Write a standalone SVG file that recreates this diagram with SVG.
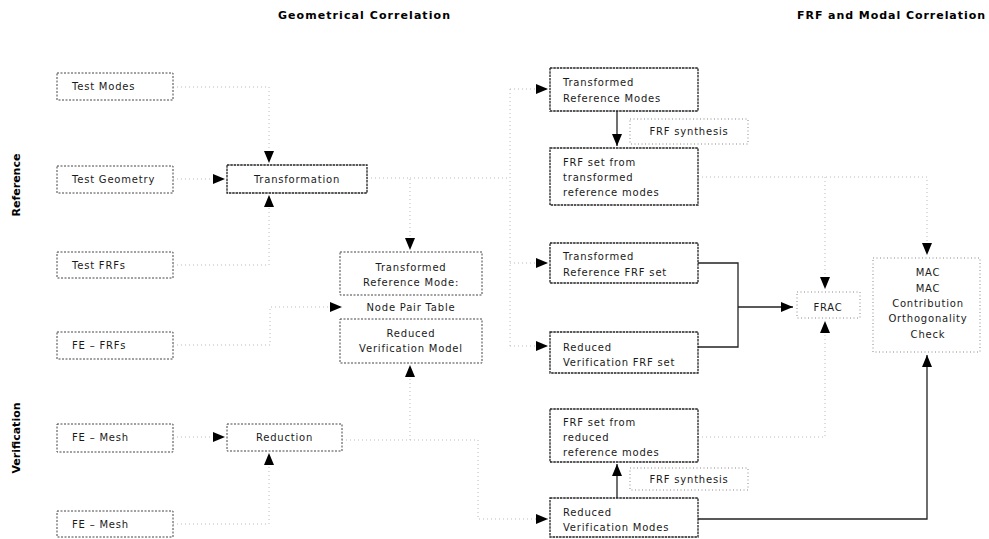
<svg xmlns="http://www.w3.org/2000/svg" width="989" height="539" viewBox="0 0 989 539">
<style>
  .hd{font-family:"DejaVu Sans",sans-serif;font-weight:bold;font-size:11px;fill:#000}
  .t{font-family:"DejaVu Sans",sans-serif;font-size:10px;letter-spacing:0.8px;fill:#1a1a1a}
  .c{text-anchor:middle}
  .bl{fill:#fff;stroke:#444;stroke-width:1;stroke-dasharray:2 1.5}
  .bd{fill:#fff;stroke:#222;stroke-width:1.3;stroke-dasharray:2.5 0.8}
  .bf{fill:none;stroke:#888;stroke-width:1;stroke-dasharray:1 2.5}
  .lf{fill:none;stroke:#bbb;stroke-width:1;stroke-dasharray:1 3}
  .ld{fill:none;stroke:#222;stroke-width:1.3}
</style>
<defs>
  <marker id="ah" markerUnits="userSpaceOnUse" markerWidth="13" markerHeight="11" refX="12" refY="5" orient="auto">
    <path d="M0,0 L12,5 L0,10 z" fill="#000"/>
  </marker>
</defs>

<text class="hd c" x="364" y="19" textLength="172">Geometrical Correlation</text>
<text class="hd c" x="891" y="19" textLength="188">FRF and Modal Correlation</text>
<text class="hd c" transform="translate(20,185) rotate(-90)">Reference</text>
<text class="hd c" transform="translate(20,438) rotate(-90)">Verification</text>

<g id="connectors">
  <path class="lf" d="M173,87 H269 V163" marker-end="url(#ah)"/>
  <path class="lf" d="M173,179 H225" marker-end="url(#ah)"/>
  <path class="lf" d="M173,265 H269 V195" marker-end="url(#ah)"/>
  <path class="lf" d="M173,345 H270 V307 H342" marker-end="url(#ah)"/>
  <path class="lf" d="M173,437 H225" marker-end="url(#ah)"/>
  <path class="lf" d="M173,524 H269 V453" marker-end="url(#ah)"/>
  <path class="lf" d="M367,178 H410 V250" marker-end="url(#ah)"/>
  <path class="lf" d="M410,178 H510"/>
  <path class="lf" d="M510,89 V346"/>
  <path class="lf" d="M510,89 H548" marker-end="url(#ah)"/>
  <path class="lf" d="M510,263 H548" marker-end="url(#ah)"/>
  <path class="lf" d="M510,346 H548" marker-end="url(#ah)"/>
  <path class="lf" d="M342,440 H478 V519 H548" marker-end="url(#ah)"/>
  <path class="lf" d="M410,440 V365" marker-end="url(#ah)"/>
  <path class="ld" d="M617,111 V146" marker-end="url(#ah)"/>
  <path class="ld" d="M617,498 V464" marker-end="url(#ah)"/>
  <path class="lf" d="M698,177 H927 V255" marker-end="url(#ah)"/>
  <path class="lf" d="M825,177 V289" marker-end="url(#ah)"/>
  <path class="lf" d="M698,437 H825 V321" marker-end="url(#ah)"/>
  <path class="ld" d="M698,263 H738 V347 H698"/>
  <path class="ld" d="M738,307 H793" marker-end="url(#ah)"/>
  <path class="ld" d="M698,519 H927 V355" marker-end="url(#ah)"/>
</g>

<g id="test-modes"><rect class="bl" x="57" y="73" width="116" height="27"/><text class="t" x="72" y="90">Test Modes</text></g>
<g id="test-geometry"><rect class="bl" x="57" y="166" width="116" height="27"/><text class="t" x="72" y="183">Test Geometry</text></g>
<g id="test-frfs"><rect class="bl" x="57" y="252" width="116" height="26"/><text class="t" x="72" y="269">Test FRFs</text></g>
<g id="fe-frfs"><rect class="bl" x="57" y="332" width="116" height="27"/><text class="t" x="72" y="349">FE – FRFs</text></g>
<g id="fe-mesh-1"><rect class="bl" x="57" y="424" width="116" height="28"/><text class="t" x="72" y="441">FE – Mesh</text></g>
<g id="fe-mesh-2"><rect class="bl" x="57" y="511" width="116" height="26"/><text class="t" x="72" y="528">FE – Mesh</text></g>

<g id="transformation"><rect class="bd" x="227" y="165" width="140" height="28"/><text class="t c" x="297" y="183">Transformation</text></g>
<g id="reduction"><rect class="bl" x="227" y="424" width="115" height="27"/><text class="t c" x="284.5" y="441">Reduction</text></g>

<g id="transformed-reference-mode"><rect class="bl" x="340" y="252" width="142" height="43"/><text class="t c" x="411" y="271">Transformed</text><text class="t c" x="411" y="286">Reference Mode:</text></g>
<g id="node-pair-table"><text class="t c" x="411" y="311">Node Pair Table</text></g>
<g id="reduced-verification-model"><rect class="bl" x="340" y="319" width="142" height="44"/><text class="t c" x="411" y="337">Reduced</text><text class="t c" x="411" y="352">Verification Model</text></g>

<g id="transformed-reference-modes"><rect class="bd" x="550" y="68" width="148" height="43"/><text class="t" x="563" y="86">Transformed</text><text class="t" x="563" y="102">Reference Modes</text></g>
<g id="frf-synthesis-1"><rect class="bf" x="630" y="119" width="118" height="25"/><text class="t c" x="689" y="135">FRF synthesis</text></g>
<g id="frf-set-transformed"><rect class="bd" x="550" y="148" width="148" height="57"/><text class="t" x="563" y="166">FRF set from</text><text class="t" x="563" y="181">transformed</text><text class="t" x="563" y="196">reference modes</text></g>
<g id="transformed-reference-frf-set"><rect class="bd" x="550" y="243" width="148" height="40"/><text class="t" x="563" y="260">Transformed</text><text class="t" x="563" y="276">Reference FRF set</text></g>
<g id="reduced-verification-frf-set"><rect class="bd" x="550" y="332" width="148" height="41"/><text class="t" x="563" y="351">Reduced</text><text class="t" x="563" y="366">Verification FRF set</text></g>
<g id="frf-set-reduced"><rect class="bd" x="550" y="409" width="148" height="53"/><text class="t" x="563" y="426">FRF set from</text><text class="t" x="563" y="441">reduced</text><text class="t" x="563" y="456">reference modes</text></g>
<g id="frf-synthesis-2"><rect class="bf" x="630" y="468" width="118" height="22"/><text class="t c" x="689" y="483">FRF synthesis</text></g>
<g id="reduced-verification-modes"><rect class="bd" x="550" y="498" width="148" height="39"/><text class="t" x="563" y="516">Reduced</text><text class="t" x="563" y="531">Verification Modes</text></g>

<g id="frac"><rect class="bf" x="797" y="292" width="63" height="26"/><text class="t c" x="828" y="311">FRAC</text></g>
<g id="mac"><rect class="bf" x="873" y="258" width="107" height="94"/><text class="t c" x="928" y="276">MAC</text><text class="t c" x="928" y="292">MAC</text><text class="t c" x="928" y="307">Contribution</text><text class="t c" x="928" y="322">Orthogonality</text><text class="t c" x="928" y="338">Check</text></g>
</svg>
